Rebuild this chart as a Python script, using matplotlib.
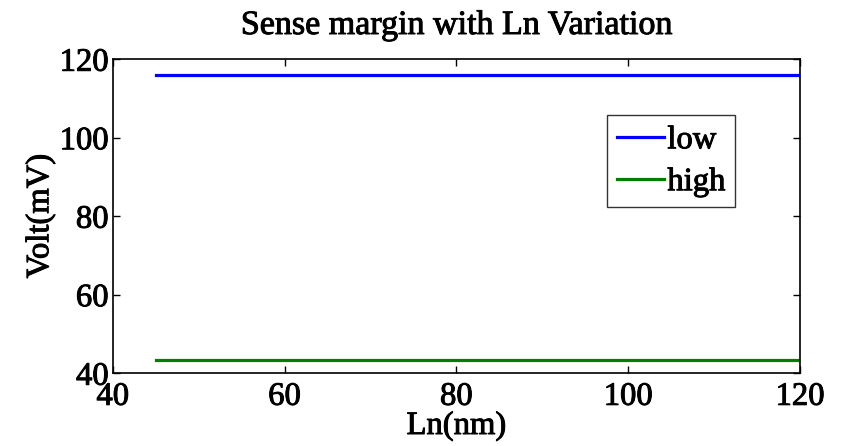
import matplotlib
matplotlib.use('Agg')
import matplotlib.pyplot as plt
import matplotlib.patheffects as pe
import numpy as np

plt.rcParams['font.family'] = ['Liberation Serif', 'DejaVu Serif']

# sense margin vs Ln
ln_nm = [45, 120]
low_mv = [115.9, 115.9]
high_mv = [43.3, 43.3]

# slightly heavier glyph strokes
heavy = [pe.withStroke(linewidth=0.7, foreground='black')]

fig = plt.figure(figsize=(8.42, 4.46), dpi=100)
ax = fig.add_axes([112.7/842, 1 - 373/446, (800 - 112.7)/842, (373 - 59)/446])

ax.plot(ln_nm, low_mv, color='#0000ff', lw=2.3, label='low')
ax.plot(ln_nm, high_mv, color='#008000', lw=2.3, label='high')

ax.set_xlim(40, 120)
ax.set_ylim(40, 120)
ax.set_xticks([40, 60, 80, 100, 120])
ax.set_yticks([40, 60, 80, 100, 120])
ax.tick_params(direction='in', top=True, right=True, labelsize=23.5, length=5, width=1)
ax.tick_params(axis='x', pad=6)
ax.tick_params(axis='y', pad=3)
for s in ax.spines.values():
    s.set_linewidth(1.2)

ax.set_xlabel('Ln(nm)', fontsize=23.5, labelpad=-1)
ax.set_ylabel('Volt(mV)', fontsize=23.5, labelpad=3)
ax.set_title('Sense margin with Ln Variation', fontsize=24.5, pad=18)

leg = ax.legend(loc='upper left', bbox_to_anchor=((607 - 112.7)/687.3, 1 - (115 - 59)/314),
                fontsize=23.5, frameon=True, fancybox=False, edgecolor='black',
                handlelength=1.45, handletextpad=0.1, borderpad=0.3, labelspacing=0.35,
                borderaxespad=0)
leg.get_frame().set_linewidth(1.0)

texts = ax.get_xticklabels() + ax.get_yticklabels() + leg.get_texts()
texts += [ax.xaxis.label, ax.yaxis.label, ax.title]
for t in texts:
    t.set_path_effects(heavy)

fig.savefig('out.png', dpi=100)
